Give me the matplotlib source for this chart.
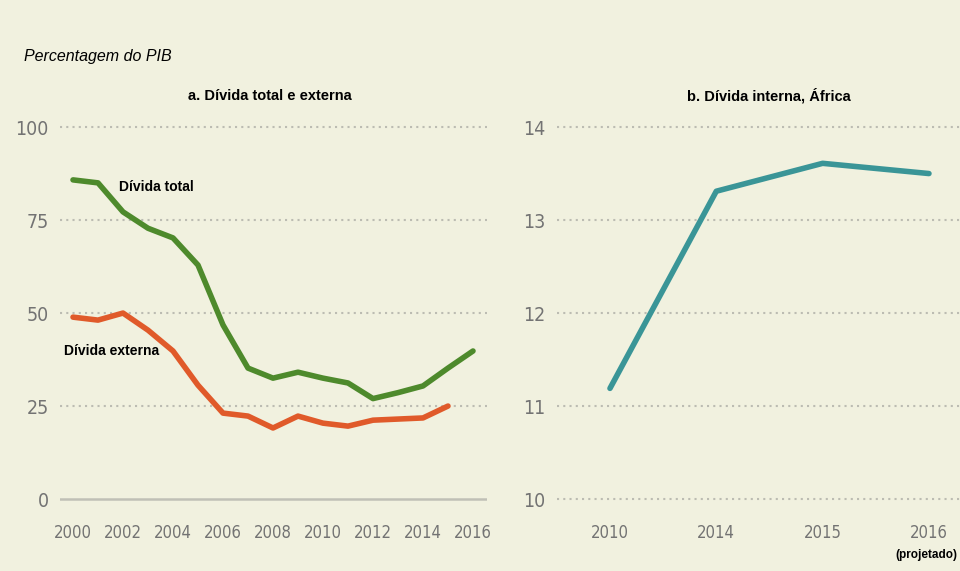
import matplotlib
matplotlib.use("Agg")
import matplotlib.pyplot as plt
from matplotlib import font_manager

# panel a: total and external debt, % of GDP
years_a = list(range(2000, 2017))
divida_total = [85.8, 85.0, 77.2, 72.8, 70.2, 62.9, 46.8, 35.2, 32.5, 34.1,
                32.5, 31.2, 27.0, 28.6, 30.4, 35.2, 39.8]
years_ext = list(range(2000, 2016))
divida_externa = [48.9, 48.1, 50.0, 45.4, 39.8, 30.6, 23.1, 22.3, 19.1, 22.3,
                  20.4, 19.6, 21.2, 21.5, 21.8, 25.0]

# panel b: domestic debt, Africa
years_b = ["2010", "2014", "2015", "2016"]
divida_interna = [11.19, 13.31, 13.61, 13.50]

bg = "#f1f1df"
green = "#4e8a2c"
orange = "#e05a2a"
teal = "#3a9597"
tick_col = "#737373"
grid_col = "#bcbcb2"

# tick labels use a narrow face if there is one
names = {f.name for f in font_manager.fontManager.ttflist}
if "Liberation Sans Narrow" in names:
    tick_font = dict(family="Liberation Sans Narrow")
else:
    tick_font = dict(family="DejaVu Sans", stretch="condensed")

plt.rcParams["font.family"] = ["Liberation Sans", "DejaVu Sans"]

fig = plt.figure(figsize=(9.6, 5.71), dpi=100, facecolor=bg)
ax1 = fig.add_axes([0.0625, 0.105, 0.4448, 0.6935], facecolor=bg)
ax2 = fig.add_axes([0.580, 0.105, 0.4198, 0.6935], facecolor=bg)

for ax in (ax1, ax2):
    for s in ax.spines.values():
        s.set_visible(False)
    ax.tick_params(length=0, colors=tick_col)


def style_ticks(ax):
    ax.tick_params(axis="y", pad=8)
    ax.tick_params(axis="x", pad=9)
    for lab in ax.get_yticklabels():
        lab.set(fontsize=14, **tick_font)
    for lab in ax.get_xticklabels():
        lab.set(fontsize=12, **tick_font)


# panel a
ax1.set_xlim(1999.48, 2016.56)
ax1.set_ylim(-3.23, 103.23)
for v in [25, 50, 75, 100]:
    ax1.axhline(v, color=grid_col, lw=1.5, ls=(0, (1, 2.0)), zorder=1)
ax1.axhline(0, color="#c0c0b6", lw=1.8, zorder=1)
ax1.plot(years_a, divida_total, color=green, lw=4, solid_capstyle="round", zorder=3)
ax1.plot(years_ext, divida_externa, color=orange, lw=4, solid_capstyle="round", zorder=3)
ax1.set_yticks([0, 25, 50, 75, 100])
ax1.set_xticks(range(2000, 2017, 2))
style_ticks(ax1)
ax1.text(2001.85, 83.9, "Dívida total", fontsize=10, fontweight="bold", va="center")
ax1.text(1999.64, 39.8, "Dívida externa", fontsize=10, fontweight="bold", va="center")

# panel b
xb = range(len(years_b))
ax2.set_xlim(-0.5, 3.29)
ax2.set_ylim(9.871, 14.129)
for v in [10, 11, 12, 13, 14]:
    ax2.axhline(v, color=grid_col, lw=1.5, ls=(0, (1, 2.0)), zorder=1)
ax2.plot(xb, divida_interna, color=teal, lw=4, solid_capstyle="round", zorder=3)
ax2.set_yticks([10, 11, 12, 13, 14])
ax2.set_xticks(list(xb))
ax2.set_xticklabels(years_b)
style_ticks(ax2)

# titles and notes
fig.text(24 / 960, 1 - 57 / 571, "Percentagem do PIB", fontsize=11.5, style="italic",
         va="center", ha="left")
fig.text(270 / 960, 1 - 96 / 571, "a. Dívida total e externa", fontsize=10.5,
         fontweight="bold", va="center", ha="center")
fig.text(769 / 960, 1 - 96 / 571, "b. Dívida interna, África", fontsize=10.5,
         fontweight="bold", va="center", ha="center")
fig.text(926 / 960, 1 - 555 / 571, "(projetado)", fontsize=8.5,
         fontweight="bold", va="center", ha="center")

fig.savefig("out.png", dpi=100, facecolor=bg)
